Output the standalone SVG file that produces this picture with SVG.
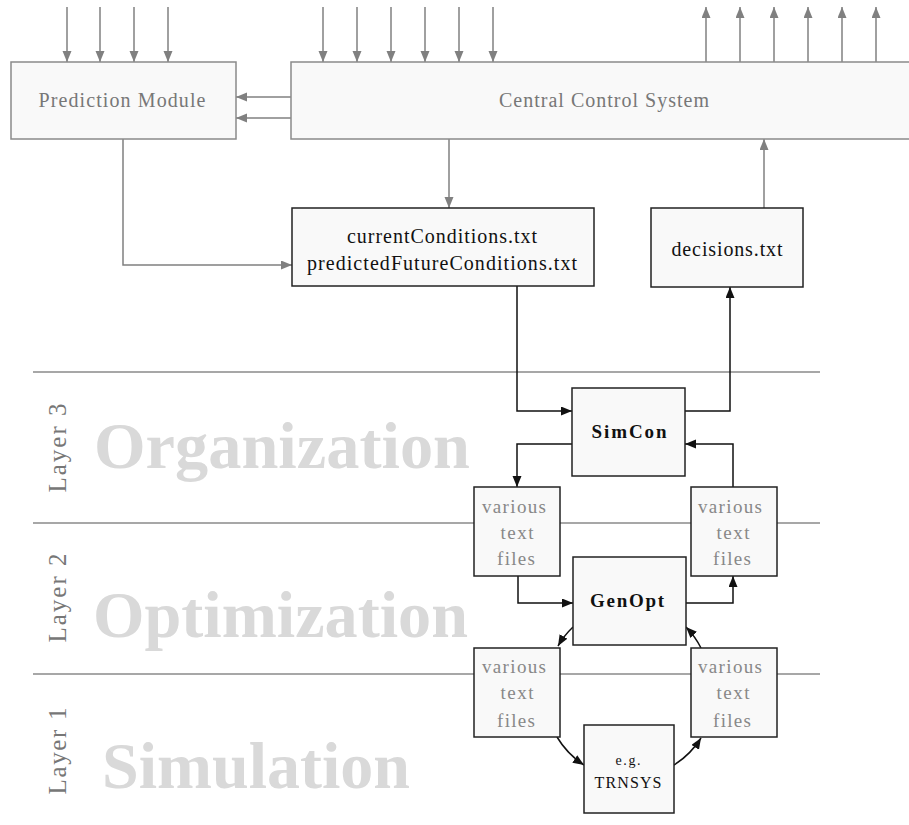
<svg xmlns="http://www.w3.org/2000/svg" width="909" height="825" viewBox="0 0 909 825">
<style>
  text{font-family:'Liberation Serif','DejaVu Serif','Times New Roman',serif}
  .gbox{fill:#f9f9f9;stroke:#8a8a8a;stroke-width:1.5}
  .bbox{fill:#f9f9f9;stroke:#222;stroke-width:1.5}
  .glabel{font-size:20px;fill:#777;text-anchor:middle}
  .blabel{font-size:20px;fill:#111;text-anchor:middle}
  .bold{font-size:19px;font-weight:bold;fill:#111;text-anchor:middle}
  .ftxt{font-size:19px;fill:#888;text-anchor:middle}
  .layer{font-size:25px;fill:#777;text-anchor:middle}
  .big{font-size:66px;font-weight:bold;fill:#d9d9d9}
  .gc{fill:none;stroke:#808080;stroke-width:1.5;marker-end:url(#ga)}
  .bc{fill:none;stroke:#111;stroke-width:1.5;marker-end:url(#ba)}
  .sep{stroke:#8a8a8a;stroke-width:1.5}
</style>
<defs>
  <marker id="ga" markerUnits="userSpaceOnUse" markerWidth="12" markerHeight="10" refX="11" refY="4.5" orient="auto">
    <path d="M0,0 L11,4.5 L0,9 z" fill="#808080"/>
  </marker>
  <marker id="ba" markerUnits="userSpaceOnUse" markerWidth="12" markerHeight="10" refX="11" refY="4.5" orient="auto">
    <path d="M0,0 L11,4.5 L0,9 z" fill="#111"/>
  </marker>
</defs>
<rect width="909" height="825" fill="#ffffff"/>

<g id="layers">
  <line class="sep" x1="33" y1="372" x2="820" y2="372"/>
  <line class="sep" x1="33" y1="523" x2="820" y2="523"/>
  <line class="sep" x1="33" y1="674" x2="820" y2="674"/>
  <text class="layer" x="58" y="448" transform="rotate(-90 58 448) translate(0 8)" textLength="89" lengthAdjust="spacing">Layer 3</text>
  <text class="layer" x="58" y="598" transform="rotate(-90 58 598) translate(0 8)" textLength="89" lengthAdjust="spacing">Layer 2</text>
  <text class="layer" x="58" y="751" transform="rotate(-90 58 751) translate(0 8)" textLength="87" lengthAdjust="spacing">Layer 1</text>
  <text class="big" x="94" y="468" textLength="376" lengthAdjust="spacingAndGlyphs">Organization</text>
  <text class="big" x="93" y="637" textLength="375" lengthAdjust="spacingAndGlyphs">Optimization</text>
  <text class="big" x="102" y="788" textLength="308" lengthAdjust="spacingAndGlyphs">Simulation</text>
</g>

<g id="connectors">
  <line class="gc" x1="67" y1="7" x2="67" y2="62"/>
  <line class="gc" x1="100" y1="7" x2="100" y2="62"/>
  <line class="gc" x1="134" y1="7" x2="134" y2="62"/>
  <line class="gc" x1="168" y1="7" x2="168" y2="62"/>
  <line class="gc" x1="323" y1="7" x2="323" y2="62"/>
  <line class="gc" x1="357" y1="7" x2="357" y2="62"/>
  <line class="gc" x1="391" y1="7" x2="391" y2="62"/>
  <line class="gc" x1="425" y1="7" x2="425" y2="62"/>
  <line class="gc" x1="459" y1="7" x2="459" y2="62"/>
  <line class="gc" x1="493" y1="7" x2="493" y2="62"/>
  <line class="gc" x1="706" y1="62" x2="706" y2="7"/>
  <line class="gc" x1="740" y1="62" x2="740" y2="7"/>
  <line class="gc" x1="774" y1="62" x2="774" y2="7"/>
  <line class="gc" x1="808" y1="62" x2="808" y2="7"/>
  <line class="gc" x1="842" y1="62" x2="842" y2="7"/>
  <line class="gc" x1="876" y1="62" x2="876" y2="7"/>
  <line class="gc" x1="291" y1="97" x2="236" y2="97"/>
  <line class="gc" x1="291" y1="118" x2="236" y2="118"/>
  <line class="gc" x1="449" y1="139" x2="449" y2="208"/>
  <polyline class="gc" points="123,139 123,265 292,265"/>
  <line class="gc" x1="764" y1="208" x2="764" y2="139"/>
  <polyline class="bc" points="517,286 517,411 572,411"/>
  <polyline class="bc" points="685,411 730,411 730,287"/>
  <polyline class="bc" points="572,444 517,444 517,487"/>
  <polyline class="bc" points="733,487 733,444 685,444"/>
  <polyline class="bc" points="518,576 518,603 573,603"/>
  <polyline class="bc" points="686,603 733,603 733,576"/>
  <path class="bc" d="M573,627 A85,85 0 0,0 558,646"/>
  <path class="bc" d="M557,737 A86,86 0 0,0 584,765"/>
  <path class="bc" d="M674,765 A86,86 0 0,0 701,738"/>
  <path class="bc" d="M701,648 A85,85 0 0,0 686,627"/>
</g>

<g id="prediction">
  <rect class="gbox" x="11" y="62" width="225" height="77"/>
  <text class="glabel" x="122" y="107" textLength="167" lengthAdjust="spacing">Prediction Module</text>
</g>
<g id="central">
  <rect class="gbox" x="291" y="62" width="619" height="77"/>
  <text class="glabel" x="604" y="107" textLength="210" lengthAdjust="spacing">Central Control System</text>
</g>
<g id="conditions">
  <rect class="bbox" x="292" y="208" width="302" height="78"/>
  <text class="blabel" x="442" y="243" textLength="190" lengthAdjust="spacing">currentConditions.txt</text>
  <text class="blabel" x="442" y="270" textLength="270" lengthAdjust="spacing">predictedFutureConditions.txt</text>
</g>
<g id="decisions">
  <rect class="bbox" x="651" y="208" width="152" height="79"/>
  <text class="blabel" x="727" y="256" textLength="111" lengthAdjust="spacing">decisions.txt</text>
</g>
<g id="simcon">
  <rect class="bbox" x="572" y="388" width="113" height="88"/>
  <text class="bold" x="629" y="438" textLength="75" lengthAdjust="spacing">SimCon</text>
</g>
<g id="files-l3-left">
  <rect class="bbox" x="474" y="487" width="86" height="89"/>
  <text class="ftxt" x="514" y="513" textLength="64" lengthAdjust="spacing">various</text>
  <text class="ftxt" x="517" y="539" textLength="33" lengthAdjust="spacing">text</text>
  <text class="ftxt" x="516" y="565" textLength="38" lengthAdjust="spacing">files</text>
</g>
<g id="files-l3-right">
  <rect class="bbox" x="691" y="487" width="86" height="89"/>
  <text class="ftxt" x="730" y="513" textLength="64" lengthAdjust="spacing">various</text>
  <text class="ftxt" x="733" y="539" textLength="33" lengthAdjust="spacing">text</text>
  <text class="ftxt" x="732" y="565" textLength="38" lengthAdjust="spacing">files</text>
</g>
<g id="genopt">
  <rect class="bbox" x="573" y="557" width="113" height="88"/>
  <text class="bold" x="627" y="607" textLength="74" lengthAdjust="spacing">GenOpt</text>
</g>
<g id="files-l2-left">
  <rect class="bbox" x="474" y="648" width="86" height="89"/>
  <text class="ftxt" x="514" y="673" textLength="64" lengthAdjust="spacing">various</text>
  <text class="ftxt" x="517" y="699" textLength="33" lengthAdjust="spacing">text</text>
  <text class="ftxt" x="516" y="727" textLength="38" lengthAdjust="spacing">files</text>
</g>
<g id="files-l2-right">
  <rect class="bbox" x="691" y="648" width="86" height="89"/>
  <text class="ftxt" x="730" y="673" textLength="64" lengthAdjust="spacing">various</text>
  <text class="ftxt" x="733" y="699" textLength="33" lengthAdjust="spacing">text</text>
  <text class="ftxt" x="732" y="727" textLength="38" lengthAdjust="spacing">files</text>
</g>
<g id="trnsys">
  <rect class="bbox" x="584" y="725" width="90" height="88"/>
  <text class="blabel" x="628" y="765" style="font-size:14px" textLength="25" lengthAdjust="spacing">e.g.</text>
  <text class="blabel" x="628" y="788" style="font-size:16px" textLength="67" lengthAdjust="spacing">TRNSYS</text>
</g>
</svg>
